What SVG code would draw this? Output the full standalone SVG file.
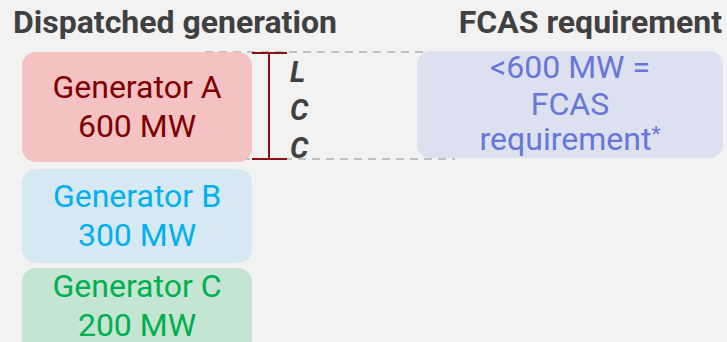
<svg xmlns="http://www.w3.org/2000/svg" width="727" height="342" viewBox="0 0 727 342">
<style>
.t{font-family:Roboto,"Liberation Sans",sans-serif;text-anchor:middle}
.h{font-family:Roboto,"Liberation Sans",sans-serif;font-weight:bold;font-size:32px;fill:#404040}
.g{font-size:32px}
.d{stroke:#c0c0c0;stroke-width:2;stroke-dasharray:8,6;fill:none}
.l{font-family:Roboto,"Liberation Sans",sans-serif;font-weight:bold;font-style:italic;font-size:29px;fill:#404040}
</style>
<rect width="727" height="342" fill="#f2f2f2"/>
<text class="h" x="13" y="33">Dispatched generation</text>
<text class="h" x="722" y="33" text-anchor="end">FCAS requirement</text>
<g id="connectors">
<line class="d" x1="205" y1="52" x2="458" y2="52"/>
<line class="d" x1="200" y1="159" x2="455" y2="159"/>
</g>
<g id="genA">
<rect x="22" y="52" width="230" height="110" rx="14" fill="#f4c2c3"/>
<text class="t g" x="137" y="98" fill="#7f0000">Generator A</text>
<text class="t g" x="137" y="137" fill="#7f0000">600 MW</text>
</g>
<g id="genB">
<rect x="22" y="169" width="230" height="94" rx="14" fill="#d6e9f2"/>
<text class="t g" x="137" y="207" fill="#00b0f0">Generator B</text>
<text class="t g" x="137" y="246" fill="#00b0f0">300 MW</text>
</g>
<g id="genC">
<rect x="22" y="268" width="230" height="94" rx="14" fill="#c3e5d2"/>
<text class="t g" x="137" y="297" fill="#00b050">Generator C</text>
<text class="t g" x="137" y="336" fill="#00b050">200 MW</text>
</g>
<g id="lcc">
<path d="M252 53H287M269 53V159M252 159H287" stroke="#8b0f12" stroke-width="2" fill="none"/>
<text class="l" x="290" y="82">L</text>
<text class="l" x="290" y="120">C</text>
<text class="l" x="290" y="158">C</text>
</g>
<g id="fcas">
<rect x="417" y="51" width="306" height="107" rx="14" fill="#dde0ee"/>
<text class="t g" x="570" y="78" fill="#6777d8">&lt;600 MW =</text>
<text class="t g" x="570" y="115" fill="#6777d8">FCAS</text>
<text class="t g" x="570" y="150" fill="#6777d8">requirement<tspan font-size="21" dy="-9">*</tspan></text>
</g>
</svg>
